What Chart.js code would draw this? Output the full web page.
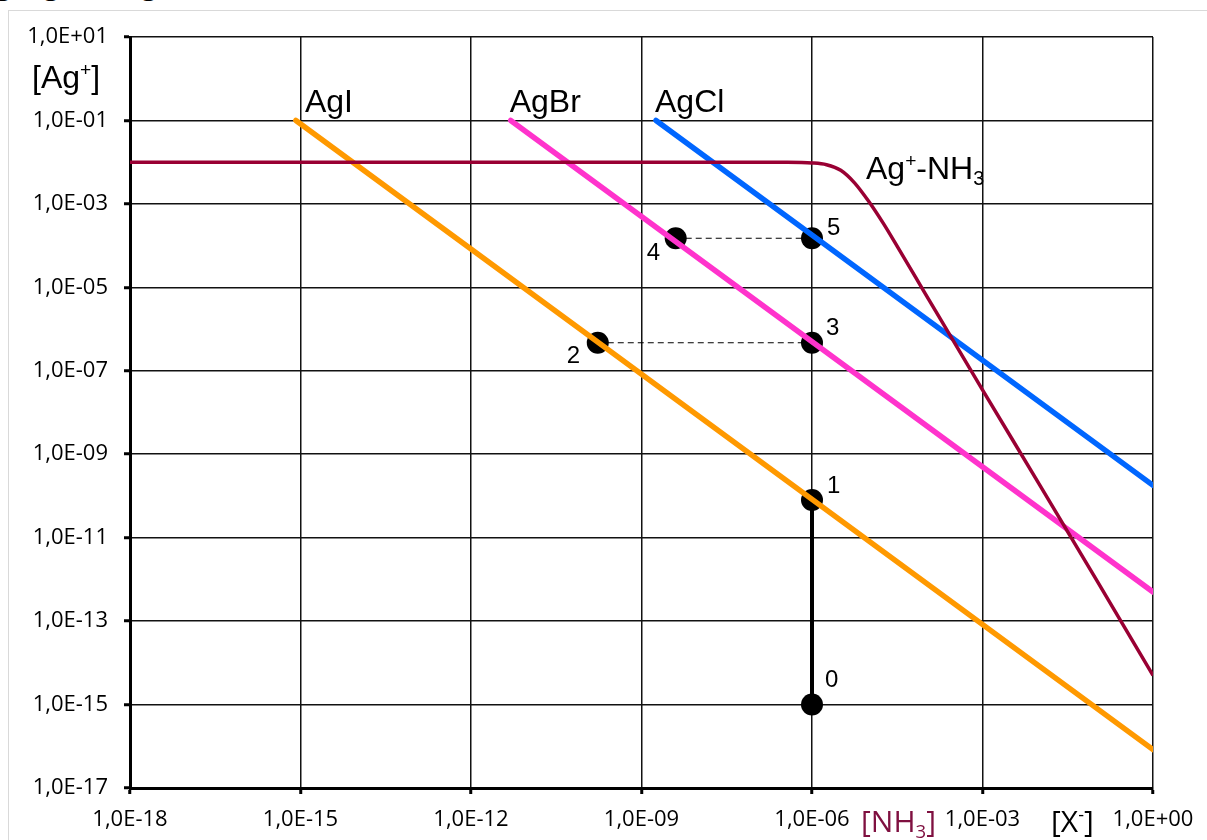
<!DOCTYPE html>
<html>
<head>
<meta charset="utf-8">
<title>[Ag+] vs [X-]</title>
<script src="https://cdn.jsdelivr.net/npm/chart.js@4.4.1/dist/chart.umd.min.js"></script>
<style>
  html, body { margin: 0; padding: 0; background: #fff; overflow: hidden; }
  #frame { position: absolute; left: 8px; top: 10px; width: 1220px; height: 850px; border: 1px solid #d9d9d9; }
  #cut-title { position: absolute; left: -4px; top: -33px; font: bold 26px 'Open Sans', sans-serif; color: #000; white-space: nowrap; }
  #chart { position: absolute; left: 0; top: 0; }
</style>
</head>
<body>
<div id="cut-title">g [Ag⁺] vs log [X⁻]</div>
<div id="frame"></div>
<canvas id="chart" width="1207" height="840"></canvas>
<script>
// axes
const xTicks = [1e-18, 1e-15, 1e-12, 1e-9, 1e-6, 1e-3, 1];
const yTicks = [1e-17, 1e-15, 1e-13, 1e-11, 1e-9, 1e-7, 1e-5, 1e-3, 1e-1, 1e1];

// solubility lines [Ag+] = Ksp / [X-]
const agiX = [8.3e-16, 1];
const agiY = [1e-1, 8.3e-17];
const agbrX = [5e-12, 1];
const agbrY = [1e-1, 5e-13];
const agclX = [1.8e-9, 1];
const agclY = [1e-1, 1.8e-10];

// free Ag+ with ammonia
const nh3X = [1e-18, 1e-7, 3.2e-7, 1e-6, 1.8e-6, 3.2e-6, 5.6e-6, 1e-5, 1.8e-5, 3.2e-5, 1e-4, 1e-3, 1e-2, 1e-1, 1];
const nh3Y = [1e-2, 1e-2, 9.97e-3, 9.6e-3, 8.7e-3, 6.4e-3, 3.2e-3, 1.14e-3, 3.4e-4, 9.3e-5, 6.8e-6, 3.5e-8, 1.9e-10, 1e-12, 5e-15];

// numbered points
const pointNames = ['0', '1', '2', '3', '4', '5'];
const pointX = [1e-6, 1e-6, 1.7e-10, 1e-6, 4e-9, 1e-6];
const pointY = [1e-15, 8e-11, 4.7e-7, 4.7e-7, 1.5e-4, 1.5e-4];

const curveNames = ['AgI', 'AgBr', 'AgCl'];

function xy(xs, ys) {
    return xs.map((x, i) => ({ x: x, y: ys[i] }));
}

function seg(a, b) {
    return [{ x: pointX[a], y: pointY[a] }, { x: pointX[b], y: pointY[b] }];
}

function fmtSci(v) {
    const parts = v.toExponential(1).split('e');
    let exp = parseInt(parts[1], 10);
    const sign = exp < 0 ? '-' : '+';
    exp = Math.abs(exp);
    return parts[0].replace('.', ',') + 'E' + sign + (exp < 10 ? '0' + exp : exp);
}

// draw text with superscript / subscript pieces
function drawRich(ctx, pieces, x, y, size, family, color) {
    ctx.save();
    ctx.fillStyle = color;
    ctx.textBaseline = 'alphabetic';
    ctx.textAlign = 'left';
    let cx = x;
    pieces.forEach(p => {
        let fs = size, dy = 0;
        if (p.sup) { fs = size * 0.6; dy = -size * 0.36; }
        if (p.sub) { fs = size * 0.62; dy = size * 0.2; }
        ctx.font = fs + 'px ' + family;
        ctx.fillText(p.t, cx, y + dy);
        cx += ctx.measureText(p.t).width;
    });
    ctx.restore();
}

const labelPlugin = {
    id: 'labels',
    afterDatasetsDraw(chart) {
        const ctx = chart.ctx;
        const xs = chart.scales.x, ys = chart.scales.y;
        const px = v => xs.getPixelForValue(v);
        const py = v => ys.getPixelForValue(v);
        const arial = "'Liberation Sans', Arial, sans-serif";

        // curve names above the start of each line
        const starts = [[agiX[0], agiY[0], 9], [agbrX[0], agbrY[0], -1], [agclX[0], agclY[0], -1]];
        starts.forEach((s, i) => {
            drawRich(ctx, [{ t: curveNames[i] }], px(s[0]) + s[2], py(s[1]) - 8, 32, arial, '#000');
        });

        // ammonia curve label, right of the knee
        drawRich(ctx, [{ t: 'Ag' }, { t: '+', sup: true }, { t: '-NH' }, { t: '3', sub: true }],
            px(nh3X[3]) + 54, py(nh3Y[3]) + 16, 32, arial, '#000');

        // numbered point labels
        const offs = [[13, -18], [15, -7], [-31, 20], [14, -8], [-29, 22], [15, -3]];
        pointNames.forEach((n, i) => {
            drawRich(ctx, [{ t: n }], px(pointX[i]) + offs[i][0], py(pointY[i]) + offs[i][1], 24, arial, '#000');
        });

        // axis captions
        drawRich(ctx, [{ t: '[Ag' }, { t: '+', sup: true }, { t: ']' }], 32, 88, 32, arial, '#000');
        const sans = "'Open Sans', sans-serif";
        drawRich(ctx, [{ t: '[NH' }, { t: '3', sub: true }, { t: ']' }], 861, 832, 30, sans, '#7f1040');
        drawRich(ctx, [{ t: '[X' }, { t: '-', sup: true }, { t: ']' }], 1051, 832, 30, sans, '#000');
    }
};

const lineDefaults = { showLine: true, pointRadius: 0, fill: false };

new Chart(document.getElementById('chart'), {
    type: 'scatter',
    data: {
        datasets: [
            Object.assign({ data: xy(nh3X, nh3Y), borderColor: '#990033', borderWidth: 3.5, cubicInterpolationMode: 'monotone' }, lineDefaults),
            Object.assign({ data: xy(agiX, agiY), borderColor: '#ff9900', borderWidth: 5.5, borderCapStyle: 'round' }, lineDefaults),
            Object.assign({ data: xy(agbrX, agbrY), borderColor: '#ff33cc', borderWidth: 5.5, borderCapStyle: 'round' }, lineDefaults),
            Object.assign({ data: xy(agclX, agclY), borderColor: '#0066ff', borderWidth: 5.5, borderCapStyle: 'round' }, lineDefaults),
            Object.assign({ data: seg(2, 3), borderColor: '#000', borderWidth: 1.2, borderDash: [6, 4] }, lineDefaults),
            Object.assign({ data: seg(4, 5), borderColor: '#000', borderWidth: 1.2, borderDash: [6, 4] }, lineDefaults),
            Object.assign({ data: seg(0, 1), borderColor: '#000', borderWidth: 4 }, lineDefaults),
            {
                data: xy(pointX, pointY),
                showLine: false,
                pointRadius: 11,
                pointBackgroundColor: '#000',
                pointBorderColor: '#000',
                pointBorderWidth: 0
            }
        ]
    },
    options: {
        responsive: false,
        animation: false,
        events: [],
        layout: { padding: { top: 37, right: 54, left: 0, bottom: 0 } },
        plugins: {
            legend: { display: false },
            tooltip: { enabled: false },
            title: { display: false }
        },
        scales: {
            x: {
                type: 'logarithmic',
                min: xTicks[0],
                max: xTicks[xTicks.length - 1],
                afterBuildTicks: s => { s.ticks = xTicks.map(v => ({ value: v })); },
                afterFit: s => { s.height = 52; },
                grid: { color: '#111', lineWidth: 1.5, tickLength: 6, tickWidth: 3, tickColor: '#000' },
                border: { color: '#000', width: 3 },
                ticks: {
                    color: '#000',
                    padding: 13,
                    maxRotation: 0,
                    autoSkip: false,
                    font: { family: "'Open Sans', sans-serif", size: 22 },
                    callback: v => fmtSci(v)
                }
            },
            y: {
                type: 'logarithmic',
                min: yTicks[0],
                max: yTicks[yTicks.length - 1],
                afterBuildTicks: s => { s.ticks = yTicks.map(v => ({ value: v })); },
                afterFit: s => { s.width = 130; },
                grid: { color: '#111', lineWidth: 1.5, tickLength: 6, tickWidth: 3, tickColor: '#000' },
                border: { color: '#000', width: 3 },
                ticks: {
                    color: '#000',
                    padding: 16,
                    autoSkip: false,
                    font: { family: "'Open Sans', sans-serif", size: 22 },
                    callback: v => fmtSci(v)
                }
            }
        }
    },
    plugins: [labelPlugin]
});
</script>
</body>
</html>
